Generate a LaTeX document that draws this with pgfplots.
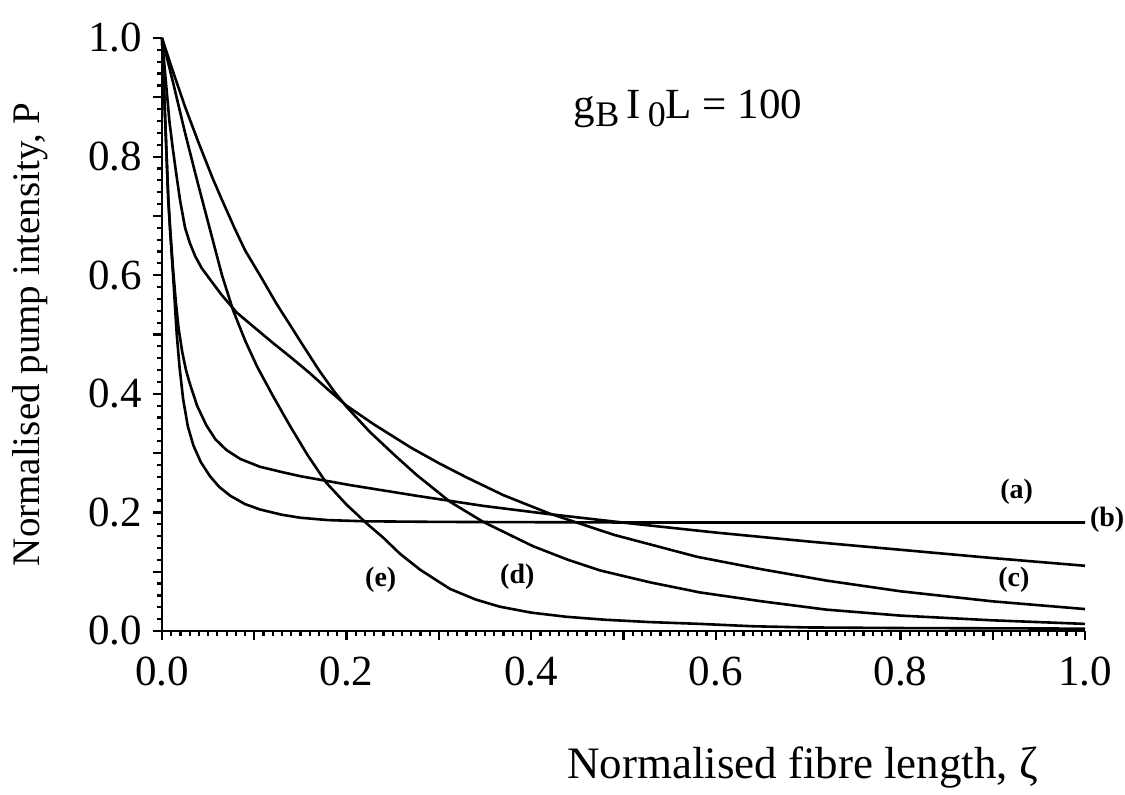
\documentclass[border=0pt]{standalone}
\usepackage{fontspec}
\setmainfont{Liberation Serif}
\usepackage{pgfplots}
\pgfplotsset{compat=1.18}
\begin{document}
\begin{tikzpicture}
\useasboundingbox (-81pt,-81.5pt) rectangle (481.5pt,315.5pt);
\begin{axis}[
  at={(0,0)}, anchor=south west,
  scale only axis, width=461.5pt, height=296.5pt,
  xmin=0, xmax=1, ymin=0, ymax=1,
  axis x line*=bottom, axis y line*=left,
  axis line style={line width=1.2pt},
  tick align=outside,
  xtick={0,0.2,0.4,0.6,0.8,1}, xticklabels={0.0,0.2,0.4,0.6,0.8,1.0},
  ytick={0,0.2,0.4,0.6,0.8,1}, yticklabels={0.0,0.2,0.4,0.6,0.8,1.0},
  minor x tick num=19, minor y tick num=9,
  extra x ticks={0.1,0.3,0.5,0.7,0.9}, extra x tick labels={},
  extra y ticks={0.1,0.3,0.5,0.7,0.9}, extra y tick labels={},
  major tick length=4.5pt, minor tick length=2.6pt,
  every tick/.style={line width=1.1pt, black},
  tick label style={font=\fontsize{21.5}{25}\selectfont},
  xticklabel style={yshift=-5pt},
  yticklabel style={xshift=-2pt},
  xlabel={Normalised fibre length, ζ},
  ylabel={Normalised pump intensity, P},
  xlabel style={at={(axis description cs:0.694,-0.231)}, anchor=center, font=\fontsize{22.5}{26}\selectfont},
  ylabel style={at={(axis description cs:-0.143,0.5)}, anchor=center, font=\fontsize{19.5}{23}\selectfont},
  clip=false,
]
% (a)
\addplot[black, line width=1.3pt] table {
0 1
0.002 0.92
0.004 0.84
0.0068 0.727
0.009 0.67
0.012 0.60
0.014 0.55
0.016 0.50
0.019 0.445
0.023 0.39
0.028 0.345
0.034 0.313
0.042 0.285
0.052 0.261
0.062 0.243
0.074 0.228
0.090 0.214
0.106 0.205
0.130 0.196
0.150 0.191
0.180 0.187
0.220 0.185
0.300 0.184
0.500 0.183
0.700 0.183
1.000 0.183
};
% (b)
\addplot[black, line width=1.3pt] table {
0 1
0.002 0.92
0.004 0.84
0.0068 0.73
0.009 0.675
0.012 0.61
0.015 0.555
0.018 0.51
0.022 0.47
0.026 0.44
0.030 0.418
0.038 0.38
0.048 0.347
0.058 0.323
0.070 0.305
0.085 0.290
0.106 0.277
0.130 0.268
0.150 0.261
0.204 0.246
0.276 0.228
0.348 0.211
0.420 0.197
0.510 0.181
0.600 0.166
0.700 0.151
0.800 0.137
0.900 0.123
1.000 0.110
};
% (c)
\addplot[black, line width=1.3pt] table {
0 1
0.004 0.93
0.008 0.86
0.012 0.81
0.016 0.765
0.0195 0.727
0.025 0.68
0.030 0.655
0.036 0.632
0.043 0.612
0.052 0.593
0.065 0.566
0.081 0.537
0.100 0.512
0.120 0.486
0.140 0.461
0.160 0.435
0.180 0.407
0.200 0.380
0.230 0.348
0.270 0.309
0.300 0.283
0.330 0.259
0.370 0.229
0.420 0.198
0.490 0.162
0.580 0.125
0.650 0.104
0.720 0.085
0.800 0.067
0.900 0.050
1.000 0.037
};
% (d)
\addplot[black, line width=1.3pt] table {
0 1
0.012 0.943
0.025 0.884
0.040 0.822
0.055 0.763
0.065 0.727
0.079 0.678
0.090 0.642
0.108 0.595
0.124 0.552
0.140 0.513
0.153 0.481
0.170 0.440
0.186 0.405
0.200 0.378
0.225 0.336
0.251 0.298
0.276 0.263
0.312 0.218
0.348 0.184
0.402 0.143
0.440 0.120
0.475 0.102
0.529 0.082
0.583 0.065
0.650 0.050
0.720 0.036
0.800 0.026
0.900 0.018
1.000 0.012
};
% (e)
\addplot[black, line width=1.3pt] table {
0 1
0.012 0.925
0.025 0.84
0.038 0.76
0.052 0.677
0.065 0.600
0.077 0.541
0.090 0.490
0.103 0.446
0.120 0.397
0.139 0.345
0.158 0.296
0.178 0.250
0.200 0.213
0.222 0.181
0.240 0.157
0.258 0.130
0.280 0.103
0.312 0.071
0.340 0.053
0.366 0.041
0.400 0.031
0.438 0.024
0.480 0.019
0.529 0.015
0.583 0.012
0.640 0.008
0.700 0.006
0.800 0.005
1.000 0.004
};
\node[anchor=base, font=\fontsize{21.5}{25}\selectfont] at (axis cs:0.570,0.865)
  {g\raisebox{-0.45ex}{\fontsize{18}{21}\selectfont B}\,I\,\raisebox{-0.45ex}{\fontsize{18}{21}\selectfont 0}L = 100};
\node[font=\bfseries\fontsize{14}{16}\selectfont] at (axis cs:0.926,0.234) {(a)};
\node[font=\bfseries\fontsize{14}{16}\selectfont] at (axis cs:1.024,0.187) {(b)};
\node[font=\bfseries\fontsize{14}{16}\selectfont] at (axis cs:0.923,0.086) {(c)};
\node[font=\bfseries\fontsize{14}{16}\selectfont] at (axis cs:0.385,0.091) {(d)};
\node[font=\bfseries\fontsize{14}{16}\selectfont] at (axis cs:0.237,0.086) {(e)};
\end{axis}
\end{tikzpicture}
\end{document}
